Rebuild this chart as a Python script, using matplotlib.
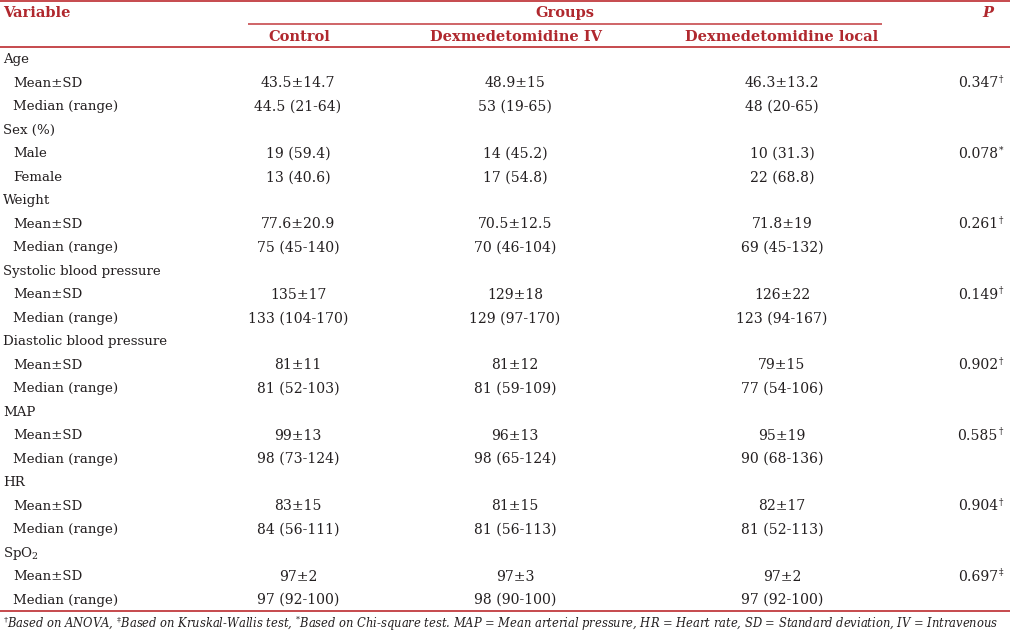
import matplotlib.pyplot as plt

# table content, one entry per row
row_labels = ['Age', 'Mean±SD', 'Median (range)',
              'Sex (%)', 'Male', 'Female',
              'Weight', 'Mean±SD', 'Median (range)',
              'Systolic blood pressure', 'Mean±SD', 'Median (range)',
              'Diastolic blood pressure', 'Mean±SD', 'Median (range)',
              'MAP', 'Mean±SD', 'Median (range)',
              'HR', 'Mean±SD', 'Median (range)',
              'SpO$_2$', 'Mean±SD', 'Median (range)']
is_heading = [True, False, False] * 8

control = ['', '43.5±14.7', '44.5 (21-64)',
           '', '19 (59.4)', '13 (40.6)',
           '', '77.6±20.9', '75 (45-140)',
           '', '135±17', '133 (104-170)',
           '', '81±11', '81 (52-103)',
           '', '99±13', '98 (73-124)',
           '', '83±15', '84 (56-111)',
           '', '97±2', '97 (92-100)']
dex_iv = ['', '48.9±15', '53 (19-65)',
          '', '14 (45.2)', '17 (54.8)',
          '', '70.5±12.5', '70 (46-104)',
          '', '129±18', '129 (97-170)',
          '', '81±12', '81 (59-109)',
          '', '96±13', '98 (65-124)',
          '', '81±15', '81 (56-113)',
          '', '97±3', '98 (90-100)']
dex_local = ['', '46.3±13.2', '48 (20-65)',
             '', '10 (31.3)', '22 (68.8)',
             '', '71.8±19', '69 (45-132)',
             '', '126±22', '123 (94-167)',
             '', '79±15', '77 (54-106)',
             '', '95±19', '90 (68-136)',
             '', '82±17', '81 (52-113)',
             '', '97±2', '97 (92-100)']
p_values = ['', '0.347', '', '', '0.078', '', '', '0.261', '',
            '', '0.149', '', '', '0.902', '', '', '0.585', '',
            '', '0.904', '', '', '0.697', '']
p_marks = ['', '†', '', '', '*', '', '', '†', '',
           '', '†', '', '', '†', '', '', '†', '',
           '', '†', '', '', '‡', '']

group_names = ['Control', 'Dexmedetomidine IV', 'Dexmedetomidine local']
footnote = ('$^{\\dagger}$Based on ANOVA, $^{\\ddagger}$Based on Kruskal-Wallis test, '
            '$^{*}$Based on Chi-square test. MAP = Mean arterial pressure, '
            'HR = Heart rate, SD = Standard deviation, IV = Intravenous')

RED = '#b0282e'
LINE = '#c23b3f'
TEXT = '#231f20'
plt.rcParams['font.family'] = ['DejaVu Serif']
plt.rcParams['mathtext.fontset'] = 'dejavuserif'

W, H = 1010, 632
fig = plt.figure(figsize=(W / 100, H / 100), dpi=100)
ax = fig.add_axes([0, 0, 1, 1])
ax.set_xlim(0, W)
ax.set_ylim(H, 0)
ax.axis('off')

FS = 9.6       # row labels
FS_VAL = 10.1  # numbers
FS_HEAD = 10.5
col_x = [298, 515, 782]
head_x = [299, 516, 782]

# header
ax.hlines(1, 0, W, color=LINE, lw=1.3)
ax.hlines(24, 248, 882, color=LINE, lw=1.1)
ax.hlines(47, 0, W, color=LINE, lw=1.3)
ax.text(3, 13, 'Variable', color=RED, fontsize=FS_HEAD, fontweight='bold', va='center')
ax.text(565, 13, 'Groups', color=RED, fontsize=FS_HEAD, fontweight='bold',
        va='center', ha='center')
ax.text(988, 13, 'P', color=RED, fontsize=FS_HEAD, fontweight='bold', style='italic',
        va='center', ha='center')
for x, name in zip(head_x, group_names):
    ax.text(x, 37, name, color=RED, fontsize=FS_HEAD, fontweight='bold',
            va='center', ha='center')

# body
y0, dy = 60, 23.48
for i, label in enumerate(row_labels):
    y = y0 + i * dy
    ax.text(3 if is_heading[i] else 13, y, label, color=TEXT, fontsize=FS, va='center')
    for x, col in zip(col_x, (control, dex_iv, dex_local)):
        ax.text(x, y, col[i], color=TEXT, fontsize=FS_VAL, va='center', ha='center')
    if p_values[i]:
        ax.text(998, y, p_values[i], color=TEXT, fontsize=FS_VAL, va='center', ha='right')
        ax.text(998.5, y - 4, p_marks[i], color=TEXT, fontsize=6.5, va='center', ha='left')

ax.hlines(611, 0, W, color=LINE, lw=1.3)
ax.text(3, 624, footnote, color=TEXT, fontsize=8.3, style='italic', va='center')

fig.savefig('out.png', dpi=100)
